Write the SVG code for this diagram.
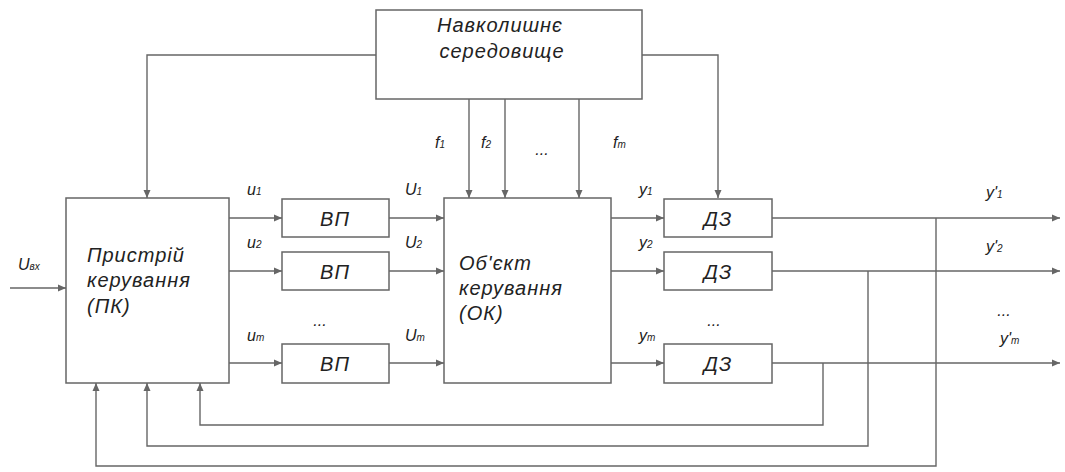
<svg xmlns="http://www.w3.org/2000/svg" width="1065" height="472" viewBox="0 0 1065 472">
<style>
.box{fill:#fff;stroke:#666;stroke-width:1.5}
.ln{fill:none;stroke:#666;stroke-width:1.4}
.t{font-family:"Liberation Sans",Arial,sans-serif;font-style:italic;font-size:20px;fill:#222;letter-spacing:1px}
.l{font-family:"Liberation Sans",Arial,sans-serif;font-style:italic;font-size:16px;fill:#222}
.s{font-size:10px}
</style>
<defs>
<marker id="a" markerUnits="userSpaceOnUse" markerWidth="10" markerHeight="10" refX="9" refY="5" orient="auto">
<path d="M1,1.5 L9,5 L1,8.5 Z" fill="#666"/>
</marker>
</defs>
<rect width="1065" height="472" fill="#fff"/>
<g id="connectors">
<path class="ln" d="M376,55 H147 V198" marker-end="url(#a)"/>
<path class="ln" d="M642,55 H718 V198" marker-end="url(#a)"/>
<path class="ln" d="M469,99 V198" marker-end="url(#a)"/>
<path class="ln" d="M505,99 V198" marker-end="url(#a)"/>
<path class="ln" d="M579,99 V198" marker-end="url(#a)"/>
<path class="ln" d="M10,288 H66" marker-end="url(#a)"/>
<path class="ln" d="M229,218 H282" marker-end="url(#a)"/>
<path class="ln" d="M229,271 H282" marker-end="url(#a)"/>
<path class="ln" d="M229,363 H282" marker-end="url(#a)"/>
<path class="ln" d="M389,218 H444" marker-end="url(#a)"/>
<path class="ln" d="M389,271 H444" marker-end="url(#a)"/>
<path class="ln" d="M389,363 H444" marker-end="url(#a)"/>
<path class="ln" d="M611,218 H664" marker-end="url(#a)"/>
<path class="ln" d="M611,271 H664" marker-end="url(#a)"/>
<path class="ln" d="M611,363 H664" marker-end="url(#a)"/>
<path class="ln" d="M772,218 H1060" marker-end="url(#a)"/>
<path class="ln" d="M772,271 H1060" marker-end="url(#a)"/>
<path class="ln" d="M772,363 H1060" marker-end="url(#a)"/>
<path class="ln" d="M936,218 V466 H96 V383" marker-end="url(#a)"/>
<path class="ln" d="M868,271 V446 H147 V383" marker-end="url(#a)"/>
<path class="ln" d="M823,363 V425 H200 V383" marker-end="url(#a)"/>
</g>
<g id="env">
<rect class="box" x="376" y="10" width="266" height="89"/>
<text class="t" x="500" y="32" text-anchor="middle">Навколишнє</text>
<text class="t" x="502" y="58" text-anchor="middle">середовище</text>
</g>
<g id="pk">
<rect class="box" x="66" y="198" width="163" height="185"/>
<text class="t" x="87" y="262">Пристрій</text>
<text class="t" x="87" y="287">керування</text>
<text class="t" x="87" y="313">(ПК)</text>
</g>
<g id="vp1"><rect class="box" x="282" y="199" width="107" height="38"/><text class="t" x="335" y="226" text-anchor="middle">ВП</text></g>
<g id="vp2"><rect class="box" x="282" y="252" width="107" height="38"/><text class="t" x="335" y="279" text-anchor="middle">ВП</text></g>
<g id="vpm"><rect class="box" x="282" y="344" width="107" height="39"/><text class="t" x="335" y="371" text-anchor="middle">ВП</text></g>
<g id="ok">
<rect class="box" x="444" y="198" width="167" height="185"/>
<text class="t" x="459" y="270">Об'єкт</text>
<text class="t" x="459" y="295">керування</text>
<text class="t" x="459" y="320">(ОК)</text>
</g>
<g id="dz1"><rect class="box" x="664" y="199" width="108" height="38"/><text class="t" x="718" y="226" text-anchor="middle">ДЗ</text></g>
<g id="dz2"><rect class="box" x="664" y="252" width="108" height="38"/><text class="t" x="718" y="279" text-anchor="middle">ДЗ</text></g>
<g id="dzm"><rect class="box" x="664" y="344" width="108" height="39"/><text class="t" x="718" y="371" text-anchor="middle">ДЗ</text></g>
<g id="labels">
<text class="l" x="18" y="270">U<tspan class="s">вх</tspan></text>
<text class="l" x="247" y="195">u<tspan class="s">1</tspan></text>
<text class="l" x="247" y="248">u<tspan class="s">2</tspan></text>
<text class="l" x="247" y="341">u<tspan class="s">m</tspan></text>
<text class="l" x="320" y="326" text-anchor="middle">...</text>
<text class="l" x="405" y="195">U<tspan class="s">1</tspan></text>
<text class="l" x="405" y="248">U<tspan class="s">2</tspan></text>
<text class="l" x="405" y="341">U<tspan class="s">m</tspan></text>
<text class="l" x="435" y="148">f<tspan class="s">1</tspan></text>
<text class="l" x="481" y="148">f<tspan class="s">2</tspan></text>
<text class="l" x="542" y="155" text-anchor="middle">...</text>
<text class="l" x="613" y="148">f<tspan class="s">m</tspan></text>
<text class="l" x="639" y="195">y<tspan class="s">1</tspan></text>
<text class="l" x="639" y="248">y<tspan class="s">2</tspan></text>
<text class="l" x="639" y="341">y<tspan class="s">m</tspan></text>
<text class="l" x="714" y="326" text-anchor="middle">...</text>
<text class="l" x="986" y="198">y'<tspan class="s">1</tspan></text>
<text class="l" x="986" y="252">y'<tspan class="s">2</tspan></text>
<text class="l" x="1004" y="316" text-anchor="middle">...</text>
<text class="l" x="1000" y="344">y'<tspan class="s">m</tspan></text>
</g>
</svg>
